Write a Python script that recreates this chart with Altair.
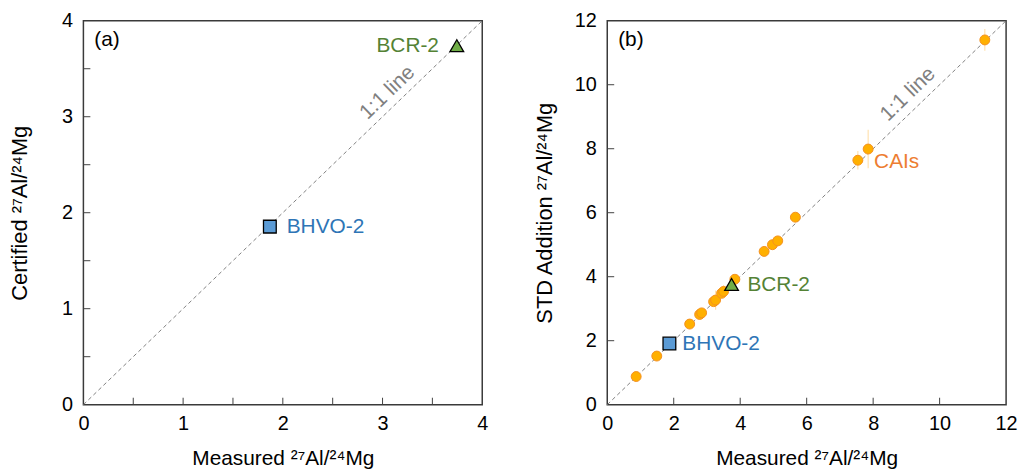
import altair as alt
import pandas as pd

FONT = "Liberation Sans"
W, H = 402, 387

# ---------------- data ----------------
# panel (a)
a_names = ["BHVO-2", "BCR-2"]
a_measured = [1.87, 3.745]
a_certified = [1.855, 3.74]

# panel (b) CAIs
cai_x = [0.87, 1.49, 2.48, 2.78, 2.84, 3.20, 3.26, 3.44, 3.50, 3.84, 4.72, 4.97, 5.13, 5.66, 7.54, 7.85, 11.36]
cai_y = [0.88, 1.52, 2.52, 2.82, 2.87, 3.22, 3.27, 3.48, 3.54, 3.92, 4.79, 5.00, 5.12, 5.86, 7.64, 7.99, 11.40]
cai_err = [0.05, 0.05, 0.05, 0.08, 0.05, 0.10, 0.30, 0.10, 0.20, 0.10, 0.10, 0.08, 0.08, 0.10, 0.29, 0.60, 0.34]
# panel (b) standards
b_names = ["BHVO-2", "BCR-2"]
b_measured = [1.87, 3.74]
b_std = [1.91, 3.76]

a_max, b_max = 4, 12
a_ticks = [0, 1, 2, 3, 4]
a_minor = [0.5, 1, 1.5, 2, 2.5, 3, 3.5]
b_ticks = [0, 2, 4, 6, 8, 10, 12]
b_minor = [2, 4, 6, 8, 10]

BLUE_F, BLUE_T = "#5B9BD5", "#2E75B6"
GREEN_F, GREEN_T = "#70AD47", "#548235"
ORANGE_F, ORANGE_S, ORANGE_T = "#FFB000", "#F39020", "#ED7D31"

XT = "Measured ²⁷Al/²⁴Mg"


def axis_x(vals):
    return alt.Axis(values=vals, format="d", ticks=False, tickSize=0, domain=False, grid=False,
                    labelFontSize=20, titleFontSize=21, labelPadding=9, titlePadding=14,
                    labelFont=FONT, titleFont=FONT, titleFontWeight="normal",
                    labelColor="black", titleColor="black", labelFlush=False)


def axis_y(vals, tpad):
    return alt.Axis(values=vals, format="d", ticks=False, tickSize=0, domain=False, grid=False,
                    labelFontSize=20, titleFontSize=22, labelPadding=11, titlePadding=tpad,
                    labelFont=FONT, titleFont=FONT, titleFontWeight="normal",
                    labelColor="black", titleColor="black", labelFlush=False)


def panel(mx, xticks, minor, ytitle, tpad, tag, std_df, line_pos, label_specs, cai=None):
    xs = alt.Scale(domain=[0, mx], nice=False, zero=True)
    ys = alt.Scale(domain=[0, mx], nice=False, zero=True)
    diag = pd.DataFrame({"x": [0, mx], "y": [0, mx]})
    base_line = alt.Chart(diag).mark_line(color="#808080", strokeWidth=1, strokeDash=[4, 3]).encode(
        x=alt.X("x:Q", scale=xs, axis=axis_x(xticks), title=XT),
        y=alt.Y("y:Q", scale=ys, axis=axis_y(xticks, tpad), title=ytitle),
    )
    tdf = pd.DataFrame({"t": minor})
    xt = alt.Chart(tdf).mark_rule(color="#404040", strokeWidth=1).encode(
        x=alt.X("t:Q", scale=xs), y=alt.value(H), y2=alt.value(H - 7))
    yt = alt.Chart(tdf).mark_rule(color="#404040", strokeWidth=1).encode(
        y=alt.Y("t:Q", scale=ys), x=alt.value(0), x2=alt.value(7))
    layers = [base_line, xt, yt]
    if cai is not None:
        err = alt.Chart(cai).mark_rule(color="#FFE2B0", strokeWidth=1.2).encode(
            x=alt.X("x:Q", scale=xs), y=alt.Y("lo:Q", scale=ys), y2="hi:Q")
        pts = alt.Chart(cai).mark_point(shape="circle", filled=True, size=100, fill=ORANGE_F,
                                        stroke=ORANGE_S, strokeWidth=1, opacity=1).encode(
            x=alt.X("x:Q", scale=xs), y=alt.Y("y:Q", scale=ys))
        layers += [err, pts]
    sq = alt.Chart(std_df.iloc[[0]]).mark_point(shape="square", filled=True, size=165, fill=BLUE_F,
                                               stroke="black", strokeWidth=1.3, opacity=1).encode(
        x=alt.X("x:Q", scale=xs), y=alt.Y("y:Q", scale=ys))
    tri = alt.Chart(std_df.iloc[[1]]).mark_point(shape="triangle-up", filled=True, size=190, fill=GREEN_F,
                                                stroke="black", strokeWidth=1.3, opacity=1).encode(
        x=alt.X("x:Q", scale=xs), y=alt.Y("y:Q", scale=ys))
    layers += [sq, tri]
    for (row_df, color, align, dx, dy) in label_specs:
        layers.append(alt.Chart(row_df).mark_text(font=FONT, fontSize=21, color=color, align=align,
                                                  baseline="middle", dx=dx, dy=dy).encode(
            x=alt.X("x:Q", scale=xs), y=alt.Y("y:Q", scale=ys), text="name:N"))
    ll = pd.DataFrame({"x": [line_pos[0]], "y": [line_pos[1]], "name": ["1:1 line"]})
    layers.append(alt.Chart(ll).mark_text(font=FONT, fontSize=21, color="#808080", align="center",
                                          baseline="middle", angle=316).encode(
        x=alt.X("x:Q", scale=xs), y=alt.Y("y:Q", scale=ys), text="name:N"))
    tg = pd.DataFrame({"name": [tag]})
    layers.append(alt.Chart(tg).mark_text(font=FONT, fontSize=21, color="black", align="left",
                                          baseline="middle").encode(
        x=alt.value(11), y=alt.value(19), text="name:N"))
    return alt.layer(*layers).properties(width=W, height=H)


a_std = pd.DataFrame({"x": a_measured, "y": a_certified, "name": a_names})
b_std_df = pd.DataFrame({"x": b_measured, "y": b_std, "name": b_names})
cai_df = pd.DataFrame({"x": cai_x, "y": cai_y,
                       "lo": [y - e for y, e in zip(cai_y, cai_err)],
                       "hi": [y + e for y, e in zip(cai_y, cai_err)]})
cai_lab = pd.DataFrame({"x": [cai_x[15]], "y": [cai_y[15]], "name": ["CAIs"]})

pa = panel(a_max, a_ticks, a_minor, "Certified ²⁷Al/²⁴Mg", 30, "(a)", a_std, (3.05, 3.25),
           [(a_std.iloc[[0]], BLUE_T, "left", 17, 0),
            (a_std.iloc[[1]], GREEN_T, "right", -18, 0)])
pb = panel(b_max, b_ticks, b_minor, "STD Addition ²⁷Al/²⁴Mg", 18, "(b)", b_std_df, (9.05, 9.7),
           [(b_std_df.iloc[[0]], BLUE_T, "left", 13, 0),
            (b_std_df.iloc[[1]], GREEN_T, "left", 16, 1),
            (cai_lab, ORANGE_T, "left", 6, 13)],
           cai=cai_df)

chart = alt.hconcat(pa, pb, spacing=44).configure_view(
    stroke="#3a3a3a", strokeWidth=1.5).properties(padding=0, background="white")

chart.save("out.html", embed_options={"renderer": "svg", "actions": False})
